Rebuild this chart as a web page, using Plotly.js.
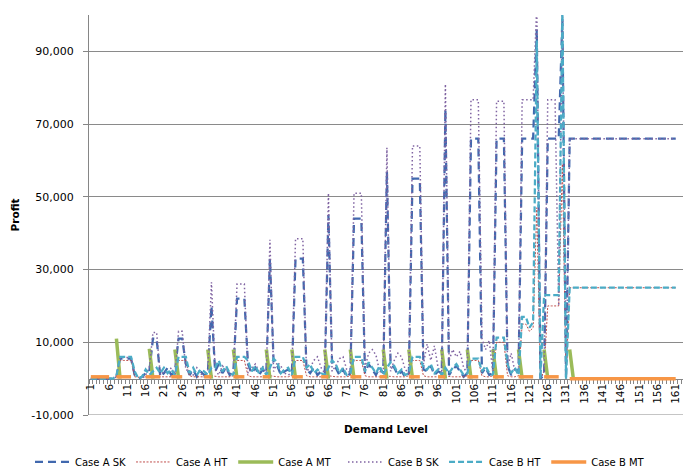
<!DOCTYPE html>
<html>
<head>
<meta charset="utf-8">
<script src="https://cdn.plot.ly/plotly-3.0.1.min.js"></script>
<style>html,body{margin:0;padding:0;background:#fff;}#chart{width:683px;height:469px;}</style>
</head>
<body>
<div id="chart"></div>
<script>
const n = null;

const levels = [
  1,2,3,4,5,6,7,8,9,10,11,12,13,14,15,16,17,18,19,20,
  21,22,23,24,25,26,27,28,29,30,31,32,33,34,35,36,37,38,39,40,
  41,42,43,44,45,46,47,48,49,50,51,52,53,54,55,56,57,58,59,60,
  61,62,63,64,65,66,67,68,69,70,71,72,73,74,75,76,77,78,79,80,
  81,82,83,84,85,86,87,88,89,90,91,92,93,94,95,96,97,98,99,100,
  101,102,103,104,105,106,107,108,109,110,111,112,113,114,115,116,117,118,119,120,
  121,122,123,124,125,126,127,128,129,130,131,132,133,134,135,136,137,138,139,140,
  141,142,143,144,145,146,147,148,149,150,151,152,153,154,155,156,157,158,159,160,
  161
];

const xTickVals = [1,6,11,16,21,26,31,36,41,46,51,56,61,66,71,76,81,86,91,96,101,106,111,116,121,126,131,136,141,146,151,156,161];
const xTickText = ["1","6","11","16","21","26","31","36","41","46","51","56","61","66","71","76","81","86","91","96","101","106","111","116","121","126","131","136","141","146","151","156","161"];
const yTickVals = [-10000,10000,30000,50000,70000,90000];
const yTickText = ["-10,000","10,000","30,000","50,000","70,000","90,000"];

const caseA_SK = [
  0,0,0,0,0,0,0,500,5500,5500,
  5500,5500,1000,0,500,1500,2000,11000,11000,500,
  1500,3000,1000,2000,11000,11000,4000,1000,2500,500,
  2000,1000,1500,20000,2000,4000,1500,3000,1000,2000,
  22000,22000,22000,4000,1500,3000,1000,2500,1500,33000,
  4500,3500,1000,2000,2500,1500,33000,33000,33000,2500,
  1500,3000,1000,2000,1500,45000,4000,3000,1000,2500,
  500,1500,44000,44000,44000,1500,4000,2500,1000,3000,
  1500,57000,4000,3000,1000,2000,500,1500,55000,55000,
  55000,2500,2000,3500,1000,2000,1500,74000,1000,2500,
  3500,2000,500,1500,66000,66000,66000,1500,3000,1000,
  1500,66000,66000,66000,3500,1000,2500,2000,66000,66000,
  66000,66000,96000,0,1000,66000,66000,66000,66000,99000,
  0,66000,66000,66000,66000,66000,66000,66000,66000,66000,
  66000,66000,66000,66000,66000,66000,66000,66000,66000,66000,
  66000,66000,66000,66000,66000,66000,66000,66000,66000,66000,
  66000
];

const caseA_HT = [
  0,0,0,0,0,0,0,500,5000,5000,
  5000,5000,500,300,300,500,500,700,700,500,
  500,500,500,800,5000,5000,5000,800,500,500,
  500,500,500,800,600,500,500,500,500,800,
  5000,5000,5000,800,500,500,500,500,500,800,
  600,500,500,500,500,800,5000,5000,5000,800,
  500,500,500,500,500,800,600,500,500,500,
  500,800,5000,5000,5000,800,500,500,500,500,
  800,800,600,500,500,500,500,800,5000,5000,
  5000,800,500,500,500,500,800,800,600,500,
  500,500,500,800,5000,5000,5000,800,500,500,
  800,10000,10000,10000,800,500,500,800,15000,15000,
  13000,14000,47000,0,2000,20000,20000,20000,20000,59000,
  0,25000,25000,25000,25000,25000,25000,25000,25000,25000,
  25000,25000,25000,25000,25000,25000,25000,25000,25000,25000,
  25000,25000,25000,25000,25000,25000,25000,25000,25000,25000,
  25000
];

const caseA_MT = [
  n,n,n,n,n,n,n,11000,0,n,
  n,n,n,n,n,n,8200,0,n,n,
  n,n,n,8000,0,n,n,n,n,n,
  n,n,8000,0,n,n,n,n,n,8000,
  0,n,n,n,n,n,n,n,8000,0,
  n,n,n,n,n,8000,0,n,n,n,
  n,n,n,n,8000,0,n,n,n,n,
  n,8000,0,n,n,n,n,n,n,n,
  8000,0,n,n,n,n,n,8000,0,n,
  n,n,n,n,n,n,8000,0,n,n,
  n,n,n,8000,0,n,n,n,n,n,
  8000,0,n,n,n,n,n,8000,0,n,
  n,n,n,n,8000,0,n,n,n,n,
  n,8000,0,n,n,n,n,n,n,n,
  n,n,n,n,n,n,n,n,n,n,
  n,n,n,n,n,n,n,n,n,n,
  n
];

const caseB_SK = [
  0,0,0,0,0,0,0,500,5800,5800,
  5800,5800,1000,500,0,1000,3000,12700,12700,1000,
  2000,1500,3000,1000,13000,13000,2500,2000,1000,3000,
  1500,500,2000,26500,2500,1000,3500,2500,1000,1500,
  26000,26000,26000,1500,3000,4000,2000,3500,1000,38200,
  2000,4500,3500,1500,1000,1500,38500,38500,38500,2000,
  3000,5000,6000,3000,1500,51000,2000,3500,5500,6000,
  2500,1500,51000,51000,51000,3000,7000,8000,6500,2000,
  1500,63500,2000,5000,7000,6000,2500,1500,64000,64000,
  64000,4000,9500,5000,9000,3000,1500,81000,5000,8000,
  6000,7500,3000,1500,76700,76700,76700,11000,8000,10500,
  1500,76300,76300,76300,3000,7000,2000,1500,76700,76700,
  76700,76700,103000,0,2000,76700,76700,76700,20000,104000,
  0,66000,66000,66000,66000,66000,66000,66000,66000,66000,
  66000,66000,66000,66000,66000,66000,66000,66000,66000,66000,
  66000,66000,66000,66000,66000,66000,66000,66000,66000,66000,
  66000
];

const caseB_HT = [
  0,0,0,0,0,0,0,800,6000,6000,
  6000,6000,2000,0,500,2500,1000,2000,3000,1500,
  3000,1500,2500,1000,6000,6000,6000,1500,3000,1000,
  2500,2000,1000,3000,3000,5000,2000,3500,1500,1000,
  6000,6000,6000,5000,2000,3500,1500,3000,1000,3000,
  5500,4500,1500,2500,3000,1000,6000,6000,6000,3000,
  4000,1500,2500,1500,1000,3000,5000,4000,1500,3000,
  1000,1500,6000,6000,6000,2000,4500,3000,1500,3500,
  1000,3000,4500,3500,1500,2500,1000,1500,6000,6000,
  6000,3000,2500,4000,1500,2500,1000,3000,1500,3000,
  4000,2500,1000,1500,5500,5500,5500,2000,3500,1500,
  1000,11300,11300,11300,4000,1500,3000,1000,17000,17000,
  14000,15500,93000,0,23000,23000,23000,23000,23000,100500,
  0,25000,25000,25000,25000,25000,25000,25000,25000,25000,
  25000,25000,25000,25000,25000,25000,25000,25000,25000,25000,
  25000,25000,25000,25000,25000,25000,25000,25000,25000,25000,
  25000
];

const caseB_MT = [
  500,500,500,500,500,500,n,500,500,500,
  500,500,n,n,n,500,500,500,500,500,
  n,n,500,500,500,500,n,n,n,n,
  n,500,500,500,n,n,n,n,n,500,
  500,500,500,n,n,n,n,500,500,500,
  n,n,n,n,n,500,500,500,500,n,
  n,n,n,500,500,500,n,n,n,n,
  n,500,500,500,500,n,n,n,n,500,
  500,500,n,n,n,n,n,500,500,500,
  500,n,n,n,n,500,500,500,n,n,
  n,n,n,500,500,500,500,n,n,n,
  500,500,500,500,n,n,n,500,500,500,
  500,500,n,n,500,500,500,500,500,n,
  n,0,0,0,0,0,0,0,0,0,
  0,0,0,0,0,0,0,0,0,0,
  0,0,0,0,0,0,0,0,0,0,
  0
];

const seriesNames = ["Case A SK","Case A HT","Case A MT","Case B SK","Case B HT","Case B MT"];

const traces = [
  {y: caseA_SK, name: seriesNames[0], legend: 'legend',  line: {color:'#4168AE', width:2.25, dash:'8px,5px'}},
  {y: caseA_HT, name: seriesNames[1], legend: 'legend',  line: {color:'#C0504D', width:1, dash:'2px,1.5px'}},
  {y: caseA_MT, name: seriesNames[2], legend: 'legend',  line: {color:'#9BBB59', width:3.5}},
  {y: caseB_SK, name: seriesNames[3], legend: 'legend2', line: {color:'#8064A2', width:1.5, dash:'1.5px,2.5px'}},
  {y: caseB_HT, name: seriesNames[4], legend: 'legend2', line: {color:'#4BACC6', width:2.25, dash:'6px,3px'}},
  {y: caseB_MT, name: seriesNames[5], legend: 'legend2', line: {color:'#F79646', width:3.5}}
].map(t => Object.assign({x: levels, type:'scatter', mode:'lines', connectgaps:false, hoverinfo:'skip'}, t));

const legendBase = {
  orientation: 'h', xref: 'container', yref: 'container',
  xanchor: 'left', y: 0.015, yanchor: 'middle',
  font: {family: 'DejaVu Sans', size: 10, color: '#000'},
  itemwidth: 35, tracegroupgap: 0, bgcolor: 'rgba(0,0,0,0)'
};

const layout = {
  width: 683, height: 469,
  margin: {l: 89, r: 0, t: 15, b: 54},
  paper_bgcolor: '#ffffff', plot_bgcolor: '#ffffff',
  font: {family: 'DejaVu Sans', size: 11, color: '#000000'},
  showlegend: true,
  legend: Object.assign({}, legendBase, {x: 30 / 683}),
  legend2: Object.assign({}, legendBase, {x: 343 / 683}),
  xaxis: {
    range: [0.5, 163], anchor: 'free', position: 0.090909,
    tickmode: 'array', tickvals: xTickVals, ticktext: xTickText,
    tickangle: -90, ticks: '', showline: true, linecolor: '#868686', linewidth: 1,
    showgrid: false, zeroline: false, layer: 'below traces',
    tickfont: {size: 10.5, color: '#000'},
    minor: {tickmode: 'linear', tick0: 0.5, dtick: 1, ticks: 'outside', ticklen: 4, tickcolor: '#868686', showgrid: false},
    title: {text: '<b>Demand Level</b>', font: {size: 10.5}, standoff: 22}
  },
  yaxis: {
    range: [-10000, 100000],
    tickmode: 'array', tickvals: yTickVals, ticktext: yTickText,
    ticks: 'outside', ticklen: 5, tickcolor: '#868686',
    showline: true, linecolor: '#868686', linewidth: 1,
    showgrid: true, gridcolor: '#8a8a8a', gridwidth: 1, zeroline: false,
    layer: 'below traces', ticklabelstandoff: 7,
    tickfont: {size: 11, color: '#000'},
    title: {text: '<b>Profit</b>', font: {size: 10.5}, standoff: 9}
  },
  shapes: [
    {type: 'line', xref: 'paper', yref: 'y', x0: 0, x1: 1, y0: yTickVals[0], y1: yTickVals[0], line: {color: '#8a8a8a', width: 1}, layer: 'below'}
  ]
};

Plotly.newPlot('chart', traces, layout, {displayModeBar: false, staticPlot: true});
</script>
</body>
</html>
